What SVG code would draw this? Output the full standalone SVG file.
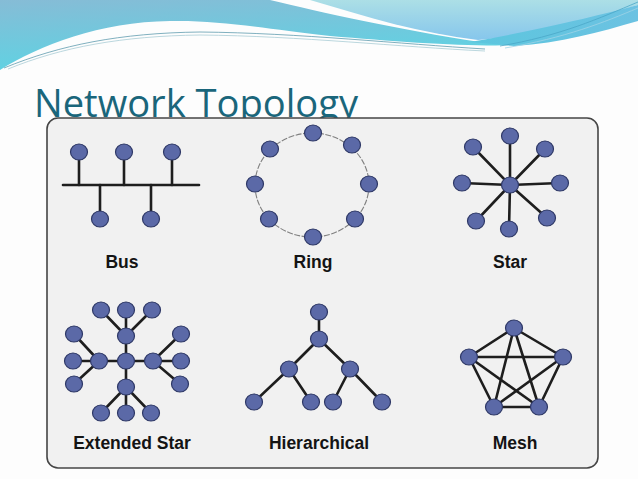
<svg xmlns="http://www.w3.org/2000/svg" width="638" height="479" viewBox="0 0 638 479">
  <defs>
    <linearGradient id="gLeft" x1="0" y1="0" x2="0.3" y2="1">
      <stop offset="0" stop-color="#86bcd6"/>
      <stop offset="1" stop-color="#5ed3e3"/>
    </linearGradient>
    <linearGradient id="gLight" x1="0" y1="0" x2="0" y2="1">
      <stop offset="0" stop-color="#acdfe6"/>
      <stop offset="1" stop-color="#86c6ec"/>
    </linearGradient>
    <linearGradient id="gBand" x1="0" y1="0" x2="1" y2="0">
      <stop offset="0" stop-color="#5cc6de"/>
      <stop offset="1" stop-color="#6cc2e2"/>
    </linearGradient>
  </defs>
  <style>
    .title { font-family: "Open Sans", "Noto Sans", sans-serif; font-size: 38px; fill: #1a667b; }
    .panel { fill: #f1f1f1; stroke: #454545; stroke-width: 1.6; }
    .link { stroke: #1e1e1e; stroke-width: 2.6; fill: none; stroke-linecap: round; }
    .ring { stroke: #808080; stroke-width: 1.1; fill: none; stroke-dasharray: 6 1.5; }
    .node ellipse { fill: #5b69a7; stroke: #2e3866; stroke-width: 1.2; }
    .label { font-family: "Liberation Sans", Arial, sans-serif; font-weight: bold; font-size: 17.5px; fill: #141414; text-anchor: middle; }
    .thin { fill: none; stroke-width: 0.8; }
  </style>

  <rect x="0" y="0" width="638" height="479" fill="#fdfdfd"/>

  <!-- header waves -->
  <g id="header">
    <path d="M0,0 H270 C320,12 400,30 480,42 L520,45 C470,47 400,42 330,36 C260,28 220,20 170,21 C100,22 40,45 0,70 Z" fill="url(#gLeft)"/>
    <path d="M310,0 H638 V5 C590,20 530,36 478,40 C420,33 370,18 310,0 Z" fill="url(#gLight)"/>
    <path d="M470,42 C540,30 600,15 638,5 V21 C600,32 560,43 515,46 Z" fill="url(#gBand)"/>
    <path class="thin" d="M4,68 C60,45 120,33 200,32 C300,33 400,44 485,49" stroke="#5f9cae"/>
    <path class="thin" d="M8,69 C62,47 122,36 200,35 C300,36 400,47 485,51" stroke="#a9cdd6"/>
    <path class="thin" d="M500,46 C560,36 600,18 638,2" stroke="#4aa7c8"/>
    <path class="thin" d="M505,48 C565,38 605,22 638,8" stroke="#9fd3e6"/>
  </g>

  <text class="title" x="34" y="117" textLength="324" lengthAdjust="spacingAndGlyphs">Network Topology</text>

  <rect id="panel" class="panel" x="47" y="118" width="551" height="350" rx="11" ry="11"/>

  <!-- Bus -->
  <g id="bus">
    <g id="bus-links">
      <line class="link" x1="63" y1="185" x2="199" y2="185"/>
      <line class="link" x1="79" y1="152" x2="79" y2="185"/>
      <line class="link" x1="124" y1="152" x2="124" y2="185"/>
      <line class="link" x1="172" y1="152" x2="172" y2="185"/>
      <line class="link" x1="100" y1="185" x2="100" y2="219"/>
      <line class="link" x1="151" y1="185" x2="151" y2="219"/>
    </g>
    <g id="bus-n1" class="node"><ellipse cx="79" cy="152" rx="8.5" ry="8"/></g>
    <g id="bus-n2" class="node"><ellipse cx="124" cy="152" rx="8.5" ry="8"/></g>
    <g id="bus-n3" class="node"><ellipse cx="172" cy="152" rx="8.5" ry="8"/></g>
    <g id="bus-n4" class="node"><ellipse cx="100" cy="219" rx="8.5" ry="8"/></g>
    <g id="bus-n5" class="node"><ellipse cx="151" cy="219" rx="8.5" ry="8"/></g>
    <text class="label" x="122" y="268">Bus</text>
  </g>

  <!-- Ring -->
  <g id="ring">
    <g id="ring-links">
      <ellipse class="ring" cx="312" cy="185" rx="57" ry="52"/>
    </g>
    <g id="ring-n1" class="node"><ellipse cx="313" cy="133" rx="8.5" ry="8"/></g>
    <g id="ring-n2" class="node"><ellipse cx="352" cy="145" rx="8.5" ry="8"/></g>
    <g id="ring-n3" class="node"><ellipse cx="369" cy="184" rx="8.5" ry="8"/></g>
    <g id="ring-n4" class="node"><ellipse cx="355" cy="219" rx="8.5" ry="8"/></g>
    <g id="ring-n5" class="node"><ellipse cx="313" cy="237" rx="8.5" ry="8"/></g>
    <g id="ring-n6" class="node"><ellipse cx="269" cy="219" rx="8.5" ry="8"/></g>
    <g id="ring-n7" class="node"><ellipse cx="255" cy="184" rx="8.5" ry="8"/></g>
    <g id="ring-n8" class="node"><ellipse cx="270" cy="149" rx="8.5" ry="8"/></g>
    <text class="label" x="313" y="268">Ring</text>
  </g>

  <!-- Star -->
  <g id="star">
    <g id="star-links">
      <line class="link" x1="510" y1="185" x2="510" y2="136"/>
      <line class="link" x1="510" y1="185" x2="473" y2="147"/>
      <line class="link" x1="510" y1="185" x2="545" y2="149"/>
      <line class="link" x1="510" y1="185" x2="462" y2="183"/>
      <line class="link" x1="510" y1="185" x2="560" y2="183"/>
      <line class="link" x1="510" y1="185" x2="476" y2="221"/>
      <line class="link" x1="510" y1="185" x2="509" y2="229"/>
      <line class="link" x1="510" y1="185" x2="547" y2="218"/>
    </g>
    <g id="star-hub" class="node"><ellipse cx="510" cy="185" rx="8.5" ry="8"/></g>
    <g id="star-n1" class="node"><ellipse cx="510" cy="136" rx="8.5" ry="8"/></g>
    <g id="star-n2" class="node"><ellipse cx="473" cy="147" rx="8.5" ry="8"/></g>
    <g id="star-n3" class="node"><ellipse cx="545" cy="149" rx="8.5" ry="8"/></g>
    <g id="star-n4" class="node"><ellipse cx="462" cy="183" rx="8.5" ry="8"/></g>
    <g id="star-n5" class="node"><ellipse cx="560" cy="183" rx="8.5" ry="8"/></g>
    <g id="star-n6" class="node"><ellipse cx="476" cy="221" rx="8.5" ry="8"/></g>
    <g id="star-n7" class="node"><ellipse cx="509" cy="229" rx="8.5" ry="8"/></g>
    <g id="star-n8" class="node"><ellipse cx="547" cy="218" rx="8.5" ry="8"/></g>
    <text class="label" x="510" y="268">Star</text>
  </g>

  <!-- Extended Star -->
  <g id="extended-star">
    <g id="ext-links">
      <line class="link" x1="126" y1="361" x2="126" y2="336"/>
      <line class="link" x1="126" y1="361" x2="99" y2="361"/>
      <line class="link" x1="126" y1="361" x2="153" y2="361"/>
      <line class="link" x1="126" y1="361" x2="126" y2="387"/>
      <line class="link" x1="126" y1="336" x2="101" y2="310"/>
      <line class="link" x1="126" y1="336" x2="126" y2="310"/>
      <line class="link" x1="126" y1="336" x2="152" y2="310"/>
      <line class="link" x1="99" y1="361" x2="74" y2="334"/>
      <line class="link" x1="99" y1="361" x2="73" y2="361"/>
      <line class="link" x1="99" y1="361" x2="74" y2="384"/>
      <line class="link" x1="153" y1="361" x2="181" y2="334"/>
      <line class="link" x1="153" y1="361" x2="181" y2="361"/>
      <line class="link" x1="153" y1="361" x2="180" y2="384"/>
      <line class="link" x1="126" y1="387" x2="101" y2="413"/>
      <line class="link" x1="126" y1="387" x2="126" y2="413"/>
      <line class="link" x1="126" y1="387" x2="151" y2="413"/>
    </g>
    <g id="ext-center" class="node"><ellipse cx="126" cy="361" rx="8.5" ry="8"/></g>
    <g id="ext-hub-t" class="node"><ellipse cx="126" cy="336" rx="8.5" ry="8"/></g>
    <g id="ext-hub-l" class="node"><ellipse cx="99" cy="361" rx="8.5" ry="8"/></g>
    <g id="ext-hub-r" class="node"><ellipse cx="153" cy="361" rx="8.5" ry="8"/></g>
    <g id="ext-hub-b" class="node"><ellipse cx="126" cy="387" rx="8.5" ry="8"/></g>
    <g id="ext-t1" class="node"><ellipse cx="101" cy="310" rx="8.5" ry="8"/></g>
    <g id="ext-t2" class="node"><ellipse cx="126" cy="310" rx="8.5" ry="8"/></g>
    <g id="ext-t3" class="node"><ellipse cx="152" cy="310" rx="8.5" ry="8"/></g>
    <g id="ext-l1" class="node"><ellipse cx="74" cy="334" rx="8.5" ry="8"/></g>
    <g id="ext-l2" class="node"><ellipse cx="73" cy="361" rx="8.5" ry="8"/></g>
    <g id="ext-l3" class="node"><ellipse cx="74" cy="384" rx="8.5" ry="8"/></g>
    <g id="ext-r1" class="node"><ellipse cx="181" cy="334" rx="8.5" ry="8"/></g>
    <g id="ext-r2" class="node"><ellipse cx="181" cy="361" rx="8.5" ry="8"/></g>
    <g id="ext-r3" class="node"><ellipse cx="180" cy="384" rx="8.5" ry="8"/></g>
    <g id="ext-b1" class="node"><ellipse cx="101" cy="413" rx="8.5" ry="8"/></g>
    <g id="ext-b2" class="node"><ellipse cx="126" cy="413" rx="8.5" ry="8"/></g>
    <g id="ext-b3" class="node"><ellipse cx="151" cy="413" rx="8.5" ry="8"/></g>
    <text class="label" x="132" y="449">Extended Star</text>
  </g>

  <!-- Hierarchical -->
  <g id="hierarchical">
    <g id="hier-links">
      <line class="link" x1="319" y1="312" x2="319" y2="339"/>
      <line class="link" x1="319" y1="339" x2="289" y2="369"/>
      <line class="link" x1="319" y1="339" x2="350" y2="369"/>
      <line class="link" x1="289" y1="369" x2="254" y2="402"/>
      <line class="link" x1="289" y1="369" x2="311" y2="402"/>
      <line class="link" x1="350" y1="369" x2="333" y2="402"/>
      <line class="link" x1="350" y1="369" x2="382" y2="402"/>
    </g>
    <g id="hier-root" class="node"><ellipse cx="319" cy="312" rx="8.5" ry="8"/></g>
    <g id="hier-l1" class="node"><ellipse cx="319" cy="339" rx="8.5" ry="8"/></g>
    <g id="hier-l2a" class="node"><ellipse cx="289" cy="369" rx="8.5" ry="8"/></g>
    <g id="hier-l2b" class="node"><ellipse cx="350" cy="369" rx="8.5" ry="8"/></g>
    <g id="hier-leaf1" class="node"><ellipse cx="254" cy="402" rx="8.5" ry="8"/></g>
    <g id="hier-leaf2" class="node"><ellipse cx="311" cy="402" rx="8.5" ry="8"/></g>
    <g id="hier-leaf3" class="node"><ellipse cx="333" cy="402" rx="8.5" ry="8"/></g>
    <g id="hier-leaf4" class="node"><ellipse cx="382" cy="402" rx="8.5" ry="8"/></g>
    <text class="label" x="319" y="449">Hierarchical</text>
  </g>

  <!-- Mesh -->
  <g id="mesh">
    <g id="mesh-links">
      <line class="link" x1="514" y1="328" x2="469" y2="357"/>
      <line class="link" x1="514" y1="328" x2="563" y2="357"/>
      <line class="link" x1="514" y1="328" x2="494" y2="407"/>
      <line class="link" x1="514" y1="328" x2="539" y2="407"/>
      <line class="link" x1="469" y1="357" x2="563" y2="357"/>
      <line class="link" x1="469" y1="357" x2="494" y2="407"/>
      <line class="link" x1="469" y1="357" x2="539" y2="407"/>
      <line class="link" x1="563" y1="357" x2="494" y2="407"/>
      <line class="link" x1="563" y1="357" x2="539" y2="407"/>
      <line class="link" x1="494" y1="407" x2="539" y2="407"/>
    </g>
    <g id="mesh-n1" class="node"><ellipse cx="514" cy="328" rx="8.5" ry="8"/></g>
    <g id="mesh-n2" class="node"><ellipse cx="469" cy="357" rx="8.5" ry="8"/></g>
    <g id="mesh-n3" class="node"><ellipse cx="563" cy="357" rx="8.5" ry="8"/></g>
    <g id="mesh-n4" class="node"><ellipse cx="494" cy="407" rx="8.5" ry="8"/></g>
    <g id="mesh-n5" class="node"><ellipse cx="539" cy="407" rx="8.5" ry="8"/></g>
    <text class="label" x="515" y="449">Mesh</text>
  </g>
</svg>
